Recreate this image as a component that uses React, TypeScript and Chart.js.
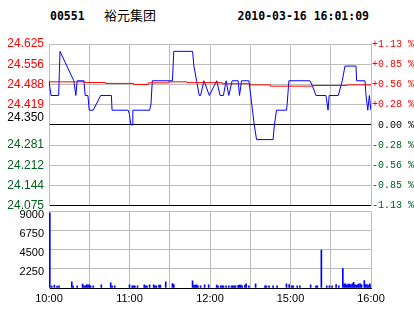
import React, { useEffect, useRef } from "react";
import { Chart, registerables } from "chart.js";

Chart.register(...registerables);

// ---- header ----
const stockCode = "00551";
const stockName = "裕元集团";
const timestamp = "2010-03-16 16:01:09";

// ---- axes ----
const priceMin = 24.075;
const priceMax = 24.625;
const priceTickValues = [24.075, 24.14375, 24.2125, 24.28125, 24.35, 24.41875, 24.4875, 24.55625, 24.625];
const priceTickLabels = ["24.075", "24.144", "24.212", "24.281", "24.350", "24.419", "24.488", "24.556", "24.625"];
const pctTickLabels = ["-1.13 %", "-0.85 %", "-0.56 %", "-0.28 %", " 0.00 %", "+0.28 %", "+0.56 %", "+0.85 %", "+1.13 %"];
const timeTickValues = [0, 30, 60, 90, 120, 150, 180, 210, 240];
const timeTickLabels = ["10:00", "", "11:00", "", "12:00", "", "15:00", "", "16:00"];
const volTickValues = [0, 2250, 4500, 6750, 9000];
const volTickLabels = ["", "2250", "4500", "6750", "9000"];

// ---- price series (minutes since 10:00 on a compressed trading-time axis) ----
const priceMinutes = [
  0, 1.5, 7.2, 7.7, 8.2, 18.5, 20, 21, 26, 27, 29, 30, 33, 38.5, 46.5, 47, 59, 60, 61, 62, 62.5,
  75, 76, 77, 92, 93, 107, 108, 110, 112, 113, 115.5, 119.5, 125, 127.5, 130, 132, 134, 136.5,
  141, 142, 143.5, 149, 153, 154.7, 167, 168, 169.6, 177, 177.5, 178.8, 194.5, 196.2, 199,
  206.4, 208, 208.8, 215.6, 218.6, 220.6, 228.8, 229.3, 235.5, 236.3, 237.6, 238.8, 239.9,
];
const prices = [
  24.5, 24.45, 24.45, 24.525, 24.6, 24.5, 24.45, 24.5, 24.5, 24.45, 24.45, 24.4, 24.4, 24.45, 24.45, 24.4, 24.4, 24.385, 24.35, 24.35, 24.4,
  24.4, 24.42, 24.5, 24.5, 24.6, 24.6, 24.55, 24.5, 24.45, 24.45, 24.5, 24.45, 24.5, 24.45, 24.45, 24.5, 24.45, 24.5,
  24.5, 24.45, 24.5, 24.5, 24.35, 24.3, 24.3, 24.35, 24.4, 24.4, 24.42, 24.5, 24.5, 24.484, 24.45,
  24.45, 24.4, 24.45, 24.45, 24.5, 24.55, 24.55, 24.5, 24.5, 24.45, 24.4, 24.45, 24.4,
];

// ---- average price ----
const avgMinutes = [0, 27, 42, 63, 74, 89, 103, 129, 150, 165, 196, 222, 229, 240];
const avgPrices = [24.5, 24.4964, 24.494, 24.491, 24.4875, 24.493, 24.4964, 24.4937, 24.49, 24.486, 24.4817, 24.484, 24.486, 24.486];

// ---- volume ----
const volMinutes = [
  0.6, 2, 4, 6, 7.5, 17, 18, 21, 25, 26, 27, 28, 29, 30, 31, 33, 39, 46, 47, 49, 60, 62, 63, 64, 66,
  71, 72, 73, 75, 78, 79, 80, 82, 83, 87, 92, 93, 107, 108, 109, 110, 111, 113, 116, 119, 125, 126,
  128, 129, 130, 132, 134, 136, 137, 138, 139, 141, 142, 143, 144, 146, 147, 149, 154, 161, 162, 164,
  167, 170, 177, 179, 181, 182, 185, 187, 195, 199, 200, 203, 207, 209, 211, 214, 216, 219, 220, 221,
  222, 223, 224, 225, 226, 227, 228, 229, 230, 231, 232, 233, 235, 236, 237, 238, 239, 240,
];
const volumes = [
  8850, 230, 340, 230, 250, 720, 230, 250, 450, 260, 260, 380, 380, 380, 260, 260, 380, 600, 260, 260, 380, 260, 260, 260, 260,
  380, 260, 260, 380, 380, 260, 260, 340, 340, 720, 530, 410, 830, 300, 340, 380, 260, 260, 380, 380, 340, 260,
  260, 260, 260, 260, 260, 260, 260, 260, 260, 300, 340, 340, 260, 340, 490, 260, 490, 260, 260, 260,
  260, 260, 490, 410, 260, 260, 260, 260, 380, 260, 260, 4480, 260, 260, 260, 410, 260, 2280, 490, 490,
  340, 450, 450, 380, 490, 680, 410, 300, 410, 490, 490, 380, 870, 410, 410, 300, 490, 380,
];

const GRID = "#bdbdbd";
const RED = "#ff0000";
const GREEN = "#006020";
const sansFont = '"Liberation Sans", Arial, sans-serif';

const priceLabelColors = [GREEN, GREEN, GREEN, GREEN, "#000000", RED, RED, RED, RED];
const priceGridColors = ["#000000", GRID, GRID, GRID, "#000000", GRID, GRID, GRID, GRID];
const volGridColors = ["#000000", GRID, GRID, GRID, GRID];

export default function App() {
  const priceRef = useRef<HTMLCanvasElement | null>(null);
  const volRef = useRef<HTMLCanvasElement | null>(null);

  useEffect(() => {
    const setTicks = (values: number[]) => (scale: any) => {
      scale.ticks = values.map((v) => ({ value: v }));
    };

    const priceChart = new Chart(priceRef.current as HTMLCanvasElement, {
      type: "line",
      data: {
        datasets: [
          {
            label: "avg",
            data: avgMinutes.map((m, i) => ({ x: m, y: avgPrices[i] })),
            borderColor: RED,
            borderWidth: 1,
            pointRadius: 0,
            stepped: "after",
            order: 0,
          },
          {
            label: "price",
            data: priceMinutes.map((m, i) => ({ x: m, y: prices[i] })),
            borderColor: "#0000ff",
            borderWidth: 1,
            pointRadius: 0,
            tension: 0,
            order: 1,
          },
        ],
      },
      options: {
        animation: false,
        responsive: false,
        maintainAspectRatio: false,
        events: [],
        layout: { padding: { top: 14, bottom: 7, left: 0, right: 0 } },
        plugins: { legend: { display: false }, tooltip: { enabled: false } },
        scales: {
          x: {
            type: "linear",
            min: 0,
            max: 240,
            afterBuildTicks: setTicks(timeTickValues),
            ticks: { display: false },
            grid: { color: GRID, drawTicks: false },
            border: { color: "#000000" },
            afterFit: (s: any) => {
              s.height = 0;
            },
          },
          y: {
            type: "linear",
            position: "left",
            min: priceMin,
            max: priceMax,
            afterBuildTicks: setTicks(priceTickValues),
            ticks: {
              autoSkip: false,
              callback: (_v: any, i: number) => (i === 4 ? [priceTickLabels[i], ""] : priceTickLabels[i]),
              color: priceLabelColors,
              font: { family: sansFont, size: 12 },
              padding: 5,
            },
            grid: { color: priceGridColors, lineWidth: 1, drawTicks: false },
            border: { color: GRID },
            afterFit: (s: any) => {
              s.width = 49;
            },
          },
          yr: {
            type: "linear",
            position: "right",
            min: priceMin,
            max: priceMax,
            afterBuildTicks: setTicks(priceTickValues),
            ticks: {
              autoSkip: false,
              callback: (_v: any, i: number) => pctTickLabels[i],
              color: priceLabelColors,
              font: { family: '"Liberation Mono", "Courier New", monospace', size: 10 },
              padding: 1,
            },
            grid: { drawOnChartArea: false, drawTicks: false },
            border: { color: GRID },
            afterFit: (s: any) => {
              s.width = 43;
            },
          },
        },
      },
    } as any);

    const volChart = new Chart(volRef.current as HTMLCanvasElement, {
      type: "bar",
      data: {
        datasets: [
          {
            label: "volume",
            data: volMinutes.map((m, i) => ({ x: m, y: volumes[i] })),
            backgroundColor: "#0000ff",
            borderWidth: 0,
            barThickness: 1,
          },
        ],
      },
      options: {
        animation: false,
        responsive: false,
        maintainAspectRatio: false,
        events: [],
        layout: { padding: { top: 9, bottom: 0, left: 0, right: 43 } },
        plugins: { legend: { display: false }, tooltip: { enabled: false } },
        scales: {
          x: {
            type: "linear",
            min: 0,
            max: 240,
            offset: false,
            afterBuildTicks: setTicks(timeTickValues),
            ticks: {
              callback: (_v: any, i: number) => timeTickLabels[i],
              autoSkip: false,
              maxRotation: 0,
              color: "#000000",
              font: { family: sansFont, size: 11 },
              padding: 4,
            },
            grid: { color: GRID, drawTicks: false, offset: false },
            border: { color: "#000000" },
            afterFit: (s: any) => {
              s.height = 26;
            },
          },
          y: {
            type: "linear",
            min: 0,
            max: 9000,
            afterBuildTicks: setTicks(volTickValues),
            ticks: {
              autoSkip: false,
              callback: (_v: any, i: number) => volTickLabels[i],
              color: "#000000",
              font: { family: sansFont, size: 11 },
              padding: 5,
              labelOffset: 3,
            },
            grid: { color: volGridColors, lineWidth: 1, drawTicks: false },
            border: { color: GRID },
            afterFit: (s: any) => {
              s.width = 49;
            },
          },
        },
      },
    } as any);

    return () => {
      priceChart.destroy();
      volChart.destroy();
    };
  }, []);

  const monoBold: React.CSSProperties = {
    position: "absolute",
    fontFamily: '"DejaVu Sans Mono", monospace',
    fontWeight: "bold",
    fontSize: "11.5px",
    lineHeight: "11.5px",
    color: "#000",
    whiteSpace: "pre",
  };

  return (
    <div style={{ position: "absolute", left: 0, top: 0, width: 414, height: 314, background: "#fff", overflow: "hidden" }}>
      <div style={{ ...monoBold, left: 50, top: 11 }}>{stockCode}</div>
      <div
        style={{
          position: "absolute",
          left: 104,
          top: 8,
          fontFamily: '"Noto Sans CJK SC", sans-serif',
          fontSize: "13px",
          lineHeight: "13px",
          color: "#000",
          whiteSpace: "pre",
        }}
      >
        {stockName}
      </div>
      <div style={{ ...monoBold, left: 237.5, top: 11 }}>{timestamp}</div>
      <canvas ref={priceRef} width={414} height={188} style={{ position: "absolute", left: 0, top: 30 }} />
      <canvas ref={volRef} width={414} height={114} style={{ position: "absolute", left: 0, top: 200 }} />
    </div>
  );
}
